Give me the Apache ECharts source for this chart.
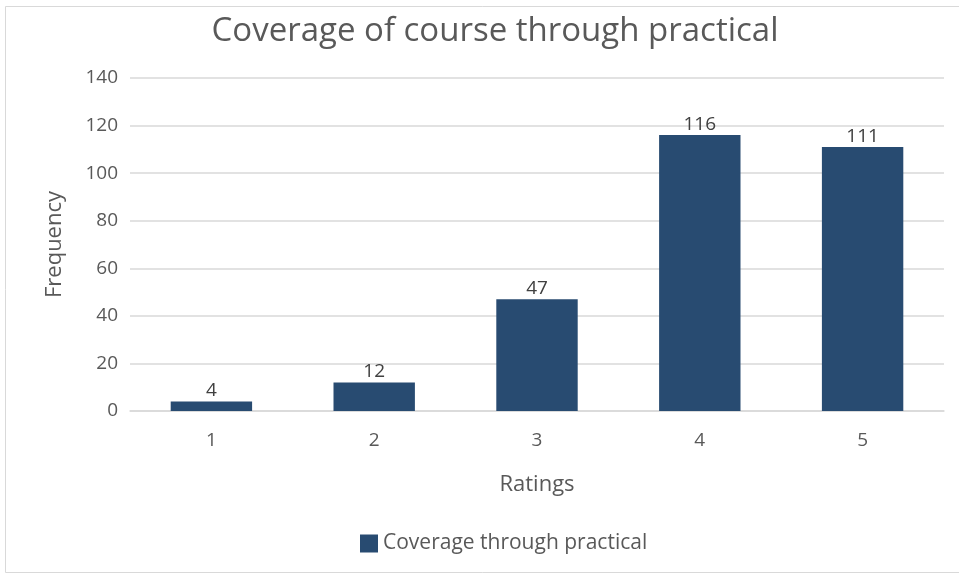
<!DOCTYPE html>
<html>
<head>
<meta charset="utf-8">
<script src="https://cdn.jsdelivr.net/npm/echarts@6/dist/echarts.min.js"></script>
<style>html,body{margin:0;padding:0;background:#fff;}#c{width:959px;height:576px;}</style>
</head>
<body>
<div id="c"></div>
<script>
const categories = ['1', '2', '3', '4', '5'];
const values = [4, 12, 47, 116, 111];
const seriesName = 'Coverage through practical';
const titleText = 'Coverage of course through practical';

const chart = echarts.init(document.getElementById('c'));
const font = '"Open Sans", "Noto Sans", sans-serif';
chart.setOption({
  animation: false,
  backgroundColor: '#fff',
  graphic: [{
    type: 'rect', left: 5, top: 6, z: -1,
    shape: { width: 960, height: 566 },
    style: { fill: '#fff', stroke: '#d9d9d9', lineWidth: 1 }
  }],
  title: {
    text: titleText, left: 490, top: 10, textAlign: 'center',
    textStyle: { fontFamily: font, fontSize: 33, fontWeight: 'normal', color: '#595959' }
  },
  legend: {
    data: [seriesName], left: 360, top: 533, padding: 0, itemWidth: 18, itemHeight: 18, itemGap: 6,
    icon: 'rect',
    textStyle: { fontFamily: font, fontSize: 21, color: '#595959' }
  },
  grid: { left: 130, right: 15, top: 78, bottom: 165 },
  xAxis: {
    type: 'category', data: categories,
    name: 'Ratings', nameLocation: 'middle', nameGap: 63,
    nameTextStyle: { fontFamily: font, fontSize: 22, color: '#595959' },
    axisLine: { lineStyle: { color: '#d9d9d9', width: 1.5 } },
    axisTick: { show: false },
    axisLabel: { fontFamily: font, fontSize: 19, color: '#595959', margin: 20 }
  },
  yAxis: {
    type: 'value', min: 0, max: 140, interval: 20,
    name: 'Frequency', nameLocation: 'middle', nameGap: 64, nameRotate: 90,
    nameTextStyle: { fontFamily: font, fontSize: 22, color: '#595959' },
    axisLine: { show: false }, axisTick: { show: false },
    splitLine: { lineStyle: { color: '#d9d9d9', width: 1.5 } },
    axisLabel: { fontFamily: font, fontSize: 19, color: '#595959', margin: 12 }
  },
  series: [{
    name: seriesName, type: 'bar', data: values, barWidth: '50%',
    itemStyle: { color: '#284b71' },
    label: { show: true, position: 'top', distance: 1, fontFamily: font, fontSize: 19, color: '#404040' }
  }]
});
</script>
</body>
</html>
